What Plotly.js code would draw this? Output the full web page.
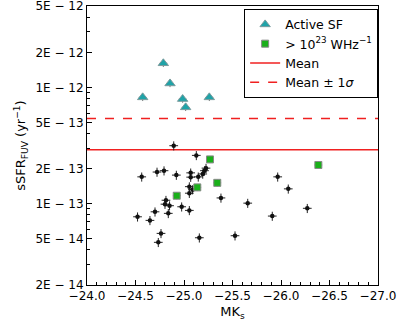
<!DOCTYPE html>
<html>
<head>
<meta charset="utf-8">
<script src="https://cdn.plot.ly/plotly-3.0.1.min.js"></script>
<style>
  html, body { margin: 0; padding: 0; background: #fff; }
  #graph { width: 399px; height: 330px; }
</style>
</head>
<body>
<div id="graph"></div>
<script>
/* all galaxies: absolute K magnitude and specific SFR from FUV */
var allMK = [-24.894, -25.127, -24.564, -24.722, -24.794, -24.921, -25.069, -25.069, -25.147, -25.193,
             -25.211, -25.227, -25.055, -25.088, -25.055, -24.814, -24.804, -24.851, -24.976, -25.055,
             -24.701, -24.838, -24.521, -24.649, -24.763, -24.735, -25.158, -25.381, -25.657, -25.910,
             -25.526, -25.966, -26.075, -26.271];
var allSSFR = [3.15e-13, 2.60e-13, 1.70e-13, 1.87e-13, 1.92e-13, 1.76e-13, 1.84e-13, 1.69e-13, 1.70e-13, 1.80e-13,
               1.92e-13, 2.02e-13, 1.40e-13, 1.32e-13, 1.23e-13, 1.07e-13, 9.9e-14, 9.6e-14, 9.4e-14, 8.75e-14,
               8.51e-14, 8.25e-14, 7.71e-14, 7.18e-14, 5.55e-14, 4.65e-14, 5.09e-14, 1.12e-13, 1.01e-13, 7.82e-14,
               5.30e-14, 1.70e-13, 1.34e-13, 9.12e-14];

/* actively star forming ones */
var sfMK = [-24.574, -24.787, -24.856, -24.986, -25.017, -25.261];
var sfSSFR = [8.2e-13, 1.61e-12, 1.08e-12, 7.93e-13, 6.73e-13, 8.2e-13];

/* radio loud ones, > 1e23 W/Hz */
var radioMK = [-24.925, -25.137, -25.268, -25.343, -26.385];
var radioSSFR = [1.17e-13, 1.38e-13, 2.40e-13, 1.51e-13, 2.15e-13];

var meanSSFR = 2.9e-13;
var meanPlusSigma = 5.41e-13;
var lineMK = [-24.0, -27.0];

var xTicks = [-24.0, -24.5, -25.0, -25.5, -26.0, -26.5, -27.0];
var xTickText = ['\u221224.0', '\u221224.5', '\u221225.0', '\u221225.5', '\u221226.0', '\u221226.5', '\u221227.0'];
var yTicks = [2e-14, 5e-14, 1e-13, 2e-13, 5e-13, 1e-12, 2e-12, 5e-12];
var yTickText = ['2E \u2212 14', '5E \u2212 14', '1E \u2212 13', '2E \u2212 13', '5E \u2212 13', '1E \u2212 12', '2E \u2212 12', '5E \u2212 12'];
var yMinor = [3e-14, 4e-14, 6e-14, 7e-14, 8e-14, 9e-14, 3e-13, 4e-13, 6e-13, 7e-13, 8e-13, 9e-13, 3e-12, 4e-12];
var xMinor = [];
for (var i = 1; i < 30; i++) {
    if (i % 5 !== 0) xMinor.push(-24 - i / 10);
}

function drawGraph() {
    var errStyle = {color: '#222', thickness: 1, width: 0};
    var allPts = {
        x: allMK, y: allSSFR, type: 'scatter', mode: 'markers', showlegend: false,
        marker: {symbol: 'circle', size: 4.5, color: '#111'},
        error_x: Object.assign({type: 'constant', value: 0.045}, errStyle),
        error_y: Object.assign({type: 'percent', value: 9}, errStyle)
    };
    var sfPts = {
        x: sfMK, y: sfSSFR, type: 'scatter', mode: 'markers', name: 'Active SF', legendrank: 1,
        marker: {symbol: 'triangle-up', size: 9, color: '#1fa3a8', line: {color: '#7a9a9c', width: 1}},
        error_x: Object.assign({type: 'constant', value: 0.04}, errStyle, {color: '#777'}),
        error_y: Object.assign({type: 'percent', value: 7}, errStyle, {color: '#777'})
    };
    var radioPts = {
        x: radioMK, y: radioSSFR, type: 'scatter', mode: 'markers', legendrank: 2,
        name: '&gt; 10<sup>23</sup> WHz<sup>\u22121</sup>',
        marker: {symbol: 'square', size: 7, color: '#19b019', line: {color: '#888', width: 1}},
        error_x: Object.assign({type: 'constant', value: 0.04}, errStyle, {color: '#888'}),
        error_y: Object.assign({type: 'percent', value: 7}, errStyle, {color: '#888'})
    };
    var meanLine = {
        x: lineMK, y: [meanSSFR, meanSSFR], type: 'scatter', mode: 'lines', name: 'Mean', legendrank: 3,
        line: {color: '#f02020', width: 1.5}
    };
    var sigmaLine = {
        x: lineMK, y: [meanPlusSigma, meanPlusSigma], type: 'scatter', mode: 'lines', legendrank: 4,
        name: 'Mean \u00b1 1<i>\u03c3</i>',
        line: {color: '#f02020', width: 1.5, dash: 'dash'}
    };
    var data = [meanLine, sigmaLine, allPts, radioPts, sfPts];

    var axisCommon = {
        showgrid: false, zeroline: false, showline: true, mirror: true,
        linecolor: '#000', linewidth: 1,
        ticks: 'inside', ticklen: 5, tickcolor: '#000', tickwidth: 1,
        ticklabeloverflow: 'allow',
        tickfont: {family: 'DejaVu Sans', size: 12, color: '#000'}
    };
    var layout = {
        width: 399, height: 330,
        margin: {l: 87, r: 21, t: 6, b: 45},
        paper_bgcolor: '#fff', plot_bgcolor: '#fff',
        font: {family: 'DejaVu Sans', size: 12, color: '#000'},
        xaxis: Object.assign({}, axisCommon, {
            range: [-24.0, -27.0], tickmode: 'array', tickvals: xTicks, ticktext: xTickText,
            minor: {tickmode: 'array', tickvals: xMinor, ticks: 'inside', ticklen: 3, tickcolor: '#000'},
            title: {text: 'MK<sub>s</sub>', font: {family: 'DejaVu Sans', size: 13}, standoff: 4}
        }),
        yaxis: Object.assign({}, axisCommon, {
            type: 'log', range: [Math.log10(2e-14) - 0.0005, Math.log10(5e-12) + 0.0005],
            tickmode: 'array', tickvals: yTicks, ticktext: yTickText,
            minor: {tickmode: 'array', tickvals: yMinor, ticks: 'inside', ticklen: 3, tickcolor: '#000'},
            title: {text: 'sSFR<sub>FUV</sub> (yr<sup>\u22121</sup>)', font: {family: 'DejaVu Sans', size: 13}, standoff: 6}
        }),
        legend: {
            x: 0.54, y: 0.99, xanchor: 'left', yanchor: 'top',
            bordercolor: '#000', borderwidth: 1, bgcolor: '#fff',
            font: {family: 'DejaVu Sans', size: 12.5}, traceorder: 'normal', itemwidth: 30
        }
    };
    Plotly.newPlot('graph', data, layout, {staticPlot: true});
}
drawGraph();
</script>
</body>
</html>
